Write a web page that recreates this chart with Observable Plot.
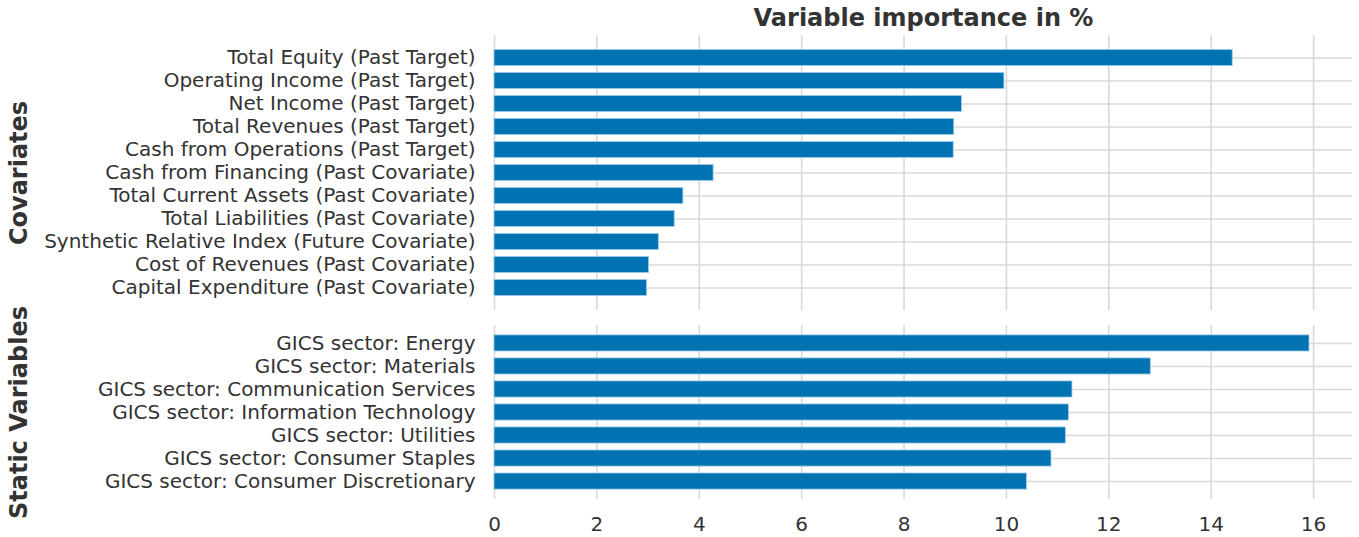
<!DOCTYPE html>
<html>
<head>
<meta charset="utf-8">
<script src="https://cdn.jsdelivr.net/npm/d3@7"></script>
<script src="https://cdn.jsdelivr.net/npm/@observablehq/plot@0.6"></script>
<style>
  html, body { margin: 0; padding: 0; background: #fff; }
  #chart { position: relative; width: 1359px; height: 537px; }
  #chart svg { display: block; position: absolute; left: 0; top: 0; }
</style>
</head>
<body>
<div id="chart"></div>
<script>
const covariateNames = [
  "Total Equity (Past Target)",
  "Operating Income (Past Target)",
  "Net Income (Past Target)",
  "Total Revenues (Past Target)",
  "Cash from Operations (Past Target)",
  "Cash from Financing (Past Covariate)",
  "Total Current Assets (Past Covariate)",
  "Total Liabilities (Past Covariate)",
  "Synthetic Relative Index (Future Covariate)",
  "Cost of Revenues (Past Covariate)",
  "Capital Expenditure (Past Covariate)"
];
const covariateValues = [14.42, 9.96, 9.13, 8.98, 8.97, 4.28, 3.69, 3.52, 3.21, 3.02, 2.98];

const staticNames = [
  "GICS sector: Energy",
  "GICS sector: Materials",
  "GICS sector: Communication Services",
  "GICS sector: Information Technology",
  "GICS sector: Utilities",
  "GICS sector: Consumer Staples",
  "GICS sector: Consumer Discretionary"
];
const staticValues = [15.92, 12.82, 11.29, 11.22, 11.16, 10.88, 10.40];

const xTicks = [0, 2, 4, 6, 8, 10, 12, 14, 16];
const groupLabels = ["Covariates", "Static Variables"];
const titleText = "Variable importance in %";

const textColor = "#333333";
const gridColor = "#d9d9d9";
const barColor = "#0173b2";
const W = 1359, H = 537;

function panel({names, values, marginTop, marginBottom, paddingOuter, group, showX, title}) {
  const data = names.map((name, i) => ({name, value: values[i]}));
  const marks = [
    Plot.gridY({stroke: gridColor, strokeOpacity: 1, strokeWidth: 1.6}),
    Plot.gridX(xTicks, {stroke: gridColor, strokeOpacity: 1, strokeWidth: 1.6}),
    Plot.barX(data, {x: "value", y: "name", fill: barColor, stroke: "#9fcbe8", strokeWidth: 0.8}),
    Plot.axisY({tickSize: 0, tickPadding: 19, fill: textColor, fontSize: 20}),
    Plot.text([group], {frameAnchor: "left", textAnchor: "middle", lineAnchor: "middle",
      dx: -475, rotate: -90, text: d => d, fontWeight: "bold", fontSize: 24, fill: textColor})
  ];
  if (showX) marks.push(Plot.axisX(xTicks, {tickSize: 0, tickPadding: 17, fill: textColor, fontSize: 20}));
  if (title) marks.push(Plot.text([title], {frameAnchor: "top", lineAnchor: "middle", dy: -17.5,
      text: d => d, fontWeight: "bold", fontSize: 24, fill: textColor}));
  return Plot.plot({
    width: W,
    height: H,
    marginTop,
    marginBottom,
    marginLeft: 494,
    marginRight: 7,
    style: {fontFamily: "DejaVu Sans", fontSize: "20px", color: textColor, background: "transparent", overflow: "visible"},
    x: {domain: [0, 16.76], label: null, axis: null},
    y: {domain: names, label: null, paddingInner: 0.3, paddingOuter, round: false, axis: null},
    marks
  });
}

const chart = document.getElementById("chart");
chart.append(panel({names: covariateNames, values: covariateValues, marginTop: 35, marginBottom: H - 310,
  paddingOuter: 0.63, group: groupLabels[0], showX: false, title: titleText}));
chart.append(panel({names: staticNames, values: staticValues, marginTop: 325, marginBottom: H - 499,
  paddingOuter: 0.43, group: groupLabels[1], showX: true}));
</script>
</body>
</html>
